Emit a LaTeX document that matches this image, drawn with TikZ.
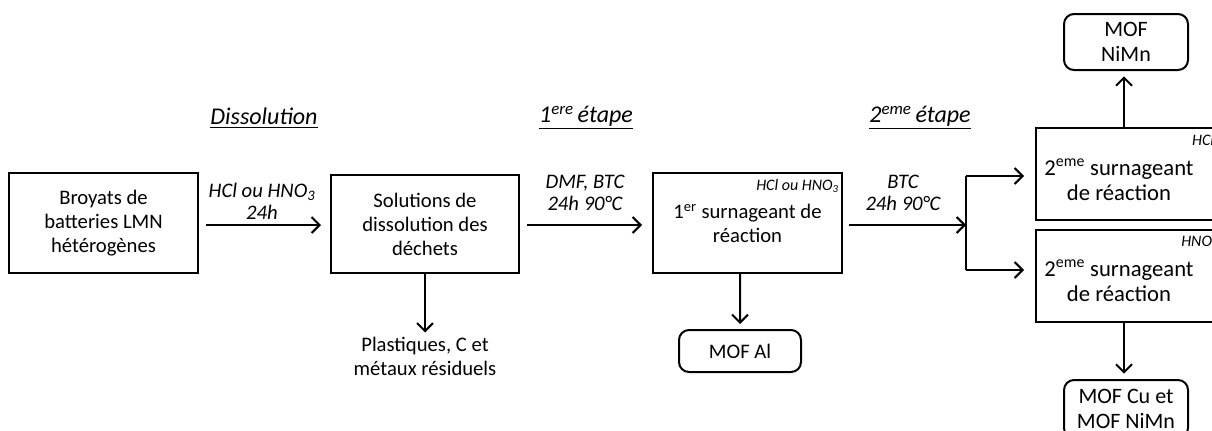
\documentclass[tikz,border=0pt]{standalone}
\usepackage{fontspec}
\setmainfont{Carlito}
\usetikzlibrary{arrows.meta}
\begin{document}
\begin{tikzpicture}[x=0.75pt,y=-0.75pt,
  font=\fontsize{15.5}{18}\selectfont,
  box/.style={draw,line width=1.5pt,inner sep=0pt,align=center},
  rbox/.style={box,rounded corners=7.5pt},
  arr/.style={line width=1.5pt,-{Straight Barb[length=6pt,width=12pt,line width=1.5pt]}},
  lbl/.style={align=center,font=\fontsize{15.5}{16.5}\selectfont\itshape},
  ttl/.style={font=\fontsize{18}{20}\selectfont\itshape},
  txt/.style={align=center,inner sep=0pt},
  big/.style={txt,font=\fontsize{17}{19}\selectfont},
  small/.style={font=\fontsize{12}{13}\selectfont\itshape,inner sep=0pt}]
\useasboundingbox (0,0) rectangle (1212,430);
\clip (0,0) rectangle (1212,430);
% boxes
\node[box,minimum width=141.75pt,minimum height=75pt] (b1) at (103.5,223) {Broyats de\\batteries LMN\\hétérogènes};
\node[box,minimum width=141pt,minimum height=73.5pt] (b2) at (425,224) {Solutions de\\dissolution des\\déchets};
\node[box,minimum width=141.75pt,minimum height=75pt] (b3) at (747.5,223) {};
\node[txt] (b3t) at (747.5,223) {1\textsuperscript{er} surnageant de\\réaction};
\node[box,minimum width=135pt,minimum height=69pt] (b4) at (1126,174) {};
\node[big] (b4t) at (1119,180) {2\textsuperscript{eme} surnageant\\de réaction};
\node[box,minimum width=135pt,minimum height=69pt] (b5) at (1126,276) {};
\node[big] (b5t) at (1119,281) {2\textsuperscript{eme} surnageant\\de réaction};
% small labels
\node[small,anchor=north east] (s3) at ([xshift=-3pt,yshift=-5pt]b3.north east) {HCl ou HNO\textsubscript{3}};
\node[small,anchor=north east] (s4) at ([xshift=-2pt,yshift=-5pt]b4.north east) {HCl};
\node[small,anchor=north east] (s5) at ([xshift=1pt,yshift=-5pt]b5.north east) {HNO\textsubscript{3}};
% rounded result boxes
\node[rbox,minimum width=93pt,minimum height=42pt,font=\fontsize{16.5}{18.5}\selectfont] (m1) at (1126,42) {MOF\\NiMn};
\node[rbox,minimum width=91.5pt,minimum height=31.5pt] (m2) at (740,351) {MOF Al};
\node[rbox,minimum width=93pt,minimum height=43.5pt,font=\fontsize{16.5}{18.5}\selectfont] (m3) at (1126,409) {MOF Cu et\\MOF NiMn};
\node[txt] (res) at (425,356) {Plastiques, C et\\métaux résiduels};
% titles
\node[ttl] (t1) at (264,118) {\underline{Dissolution}};
\node[ttl] (t2) at (586,118) {\underline{1\textsuperscript{ere}\,étape}};
\node[ttl] (t3) at (920,118) {\underline{2\textsuperscript{eme}\,étape}};
% arrow labels
\node[lbl] (l1) at (262,201) {HCl ou HNO\textsubscript{3}\\24h};
\node[lbl] (l2) at (585,193) {DMF, BTC\\24h 90°C};
\node[lbl] (l3) at (903,193) {BTC\\24h 90°C};
% connectors
\draw[arr] ([xshift=5.25pt,yshift=-1.5pt]b1.east) -- ([xshift=-6.75pt,yshift=-0.75pt]b2.west);
\draw[arr] ([xshift=5.25pt,yshift=-0.75pt]b2.east) -- ([xshift=-7.5pt,yshift=-1.5pt]b3.west);
\coordinate (j) at (966,225);
\coordinate (jt) at (966,176);
\coordinate (jb) at (966,270);
\draw[arr] ([xshift=4.5pt,yshift=-1.5pt]b3.east) -- (j);
\draw[line width=1.5pt] (jt) -- (jb);
\draw[arr] (jt) -- ([xshift=-8.25pt]b4.west|-jt);
\draw[arr] (jb) -- ([xshift=-8.25pt]b5.west|-jb);
\draw[arr] (b2.south) -- ([yshift=3pt]res.north);
\draw[arr] ([xshift=-5.6pt]b3.south) -- ([yshift=3.75pt]m2.north);
\draw[arr] ([xshift=-1.5pt]b4.north) -- ([xshift=-1.5pt,yshift=-4pt]m1.south);
\draw[arr] ([xshift=-1.5pt]b5.south) -- ([xshift=-1.5pt,yshift=4pt]m3.north);
\end{tikzpicture}
\end{document}
